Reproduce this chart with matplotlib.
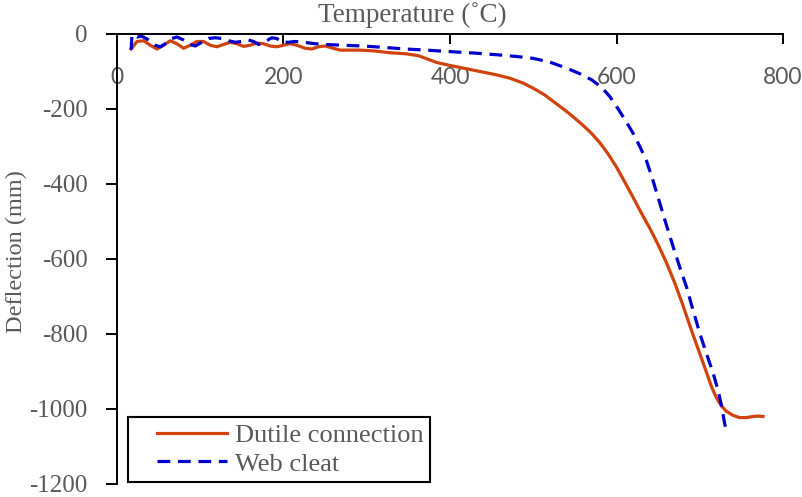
import matplotlib
matplotlib.use("Agg")
from matplotlib import pyplot as plt
from matplotlib.legend_handler import HandlerLine2D

# temperature (C) vs mid-span deflection (mm)
ductile_temp = [17, 24, 32, 40, 48, 56, 64, 72, 80, 88, 96, 104, 112, 120, 128, 136, 144, 152,
                160, 168, 176, 184, 192, 200, 208, 216, 226, 234, 242, 250, 258, 268, 280, 292,
                308, 328, 348, 362, 372, 384, 400, 416, 436, 456, 472, 488, 502, 514, 526, 538,
                548, 560, 570, 580, 590, 600, 610, 620, 630, 640, 650, 660, 670, 680, 690, 700,
                708, 714, 720, 726, 732, 740, 748, 756, 764, 770, 776]
ductile_defl = [-40, -20, -18, -30, -40, -30, -18, -26, -38, -30, -20, -20, -30, -34, -28, -22, -26, -33,
                -30, -24, -26, -32, -34, -30, -26, -30, -38, -40, -34, -32, -37, -43, -43, -43,
                -45, -50, -53, -58, -66, -76, -84, -91, -100, -109, -118, -131, -147, -163, -183, -203,
                -221, -244, -265, -290, -320, -355, -395, -436, -478, -518, -562, -610, -664, -725, -790, -852,
                -902, -940, -970, -992, -1006, -1017, -1023, -1023, -1020, -1019, -1020]

cleat_temp = [17, 18, 24, 30, 38, 46, 52, 58, 66, 72, 80, 88, 94, 102, 110, 118, 126, 134, 142,
              150, 158, 164, 170, 178, 186, 192, 198, 206, 214, 224, 238, 252, 270, 296, 322, 346,
              372, 400, 430, 460, 480, 500, 520, 540, 556, 570, 582, 592, 602, 612, 620, 628, 636,
              644, 652, 660, 668, 676, 684, 692, 700, 708, 716, 722, 726, 730, 731]
cleat_defl = [-42, -2, -8, -6, -16, -30, -34, -26, -12, -8, -16, -28, -32, -22, -12, -10, -12, -18, -22,
              -20, -16, -20, -28, -20, -10, -12, -22, -22, -20, -22, -26, -28, -30, -32, -36, -40,
              -43, -47, -51, -56, -60, -65, -75, -91, -106, -122, -142, -167, -200, -235, -265, -300, -338,
              -392, -451, -510, -567, -622, -674, -737, -798, -852, -904, -950, -990, -1040, -1050]

x_ticks = [0, 200, 400, 600, 800]
y_ticks = [0, -200, -400, -600, -800, -1000, -1200]

grey = '#595959'
plt.rcParams['font.family'] = ['Liberation Serif', 'DejaVu Serif']
plt.rcParams['axes.unicode_minus'] = False

fig = plt.figure(figsize=(8.03, 4.97), dpi=100)
ax = fig.add_axes([0.1457, 0.0262, 0.8294, 0.9054])

ax.plot(ductile_temp, ductile_defl, color='#D0420E', lw=2.3, label='Dutile connection')
ax.plot(cleat_temp, cleat_defl, color='#0000CC', lw=2.3, dashes=(4, 2.4),
        dash_capstyle='butt', label='Web cleat')

ax.set_xlim(0, 800)
ax.set_ylim(-1200, 0)
ax.set_xticks(x_ticks)
ax.set_yticks(y_ticks)

# x axis drawn along deflection = 0, labels just under it
ax.spines['bottom'].set_position(('data', 0))
ax.spines['top'].set_visible(False)
ax.spines['right'].set_visible(False)
for s in ['bottom', 'left']:
    ax.spines[s].set_linewidth(1.4)

ax.tick_params(axis='x', direction='out', length=7, width=1.4, pad=17,
               labelcolor=grey, labelsize=16.5)
for lab in ax.get_xticklabels():
    lab.set_fontfamily('Lato')
ax.tick_params(axis='y', direction='out', length=8, width=1.4, pad=13,
               labelcolor=grey, labelsize=18)

ax.xaxis.set_label_position('top')
ax.set_xlabel('Temperature (˚C)', fontsize=19.5, color=grey)
ax.xaxis.set_label_coords(0.443, 1.027)
ax.set_ylabel('Deflection (mm)', fontsize=17.5, color=grey)
ax.yaxis.set_label_coords(-0.135, 0.516)

leg = ax.legend(loc='lower left', bbox_to_anchor=(0.0165, 0.004), borderaxespad=0,
                fontsize=19, handlelength=3.5, handletextpad=0.3, labelspacing=0.2,
                borderpad=0.25, fancybox=False, framealpha=1, labelcolor=grey,
                handler_map={matplotlib.lines.Line2D: HandlerLine2D(xpad=0.85)})
leg.get_frame().set_edgecolor('black')
leg.get_frame().set_linewidth(1.5)

fig.savefig('out.png', dpi=100)
